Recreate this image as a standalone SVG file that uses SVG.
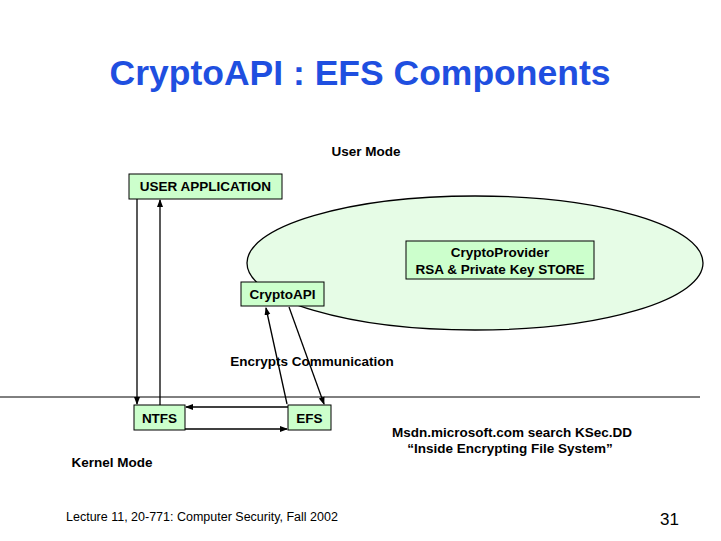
<svg xmlns="http://www.w3.org/2000/svg" width="721" height="541" viewBox="0 0 721 541">
<style>
text{font-family:"Liberation Sans",Arial,sans-serif;fill:#000}
.b{font-weight:bold;font-size:13.5px}
.box{fill:#ccffcc;stroke:#000;stroke-width:1}
.ln{stroke:#000;stroke-width:1.3;fill:none}
</style>
<defs><marker id="a" markerWidth="8" markerHeight="8" refX="7" refY="4" orient="auto" markerUnits="userSpaceOnUse"><path d="M0,1 L8,4 L0,7 Z" fill="#000"/></marker></defs>
<rect width="721" height="541" fill="#fff"/>
<text x="360" y="85" text-anchor="middle" style="font-size:35.5px;font-weight:bold;fill:#1f4fe0">CryptoAPI : EFS Components</text>
<text x="366" y="156" text-anchor="middle" class="b">User Mode</text>
<g id="ellipse"><ellipse cx="475" cy="263" rx="228" ry="67" fill="#e6fce6" stroke="#000" stroke-width="1.3"/></g>
<g id="userapp"><rect class="box" x="129" y="174" width="153" height="25"/><text x="205.5" y="191" text-anchor="middle" class="b">USER APPLICATION</text></g>
<g id="provider"><rect class="box" x="406" y="241" width="188" height="38"/><text x="500" y="257" text-anchor="middle" class="b">CryptoProvider</text><text x="500" y="274" text-anchor="middle" class="b">RSA &amp; Private Key STORE</text></g>
<g id="cryptoapi"><rect class="box" x="241" y="282" width="83" height="24"/><text x="282.5" y="299" text-anchor="middle" class="b">CryptoAPI</text></g>
<g id="ntfs"><rect class="box" x="134" y="405" width="51" height="25"/><text x="159.5" y="423" text-anchor="middle" class="b">NTFS</text></g>
<g id="efs"><rect class="box" x="288" y="405" width="43" height="25"/><text x="309.5" y="423" text-anchor="middle" class="b">EFS</text></g>
<g id="connectors">
<line class="ln" x1="137" y1="199" x2="137" y2="404" marker-end="url(#a)"/>
<line class="ln" x1="160" y1="405" x2="160" y2="200" marker-end="url(#a)"/>
<line class="ln" x1="288" y1="407" x2="186" y2="407" marker-end="url(#a)"/>
<line class="ln" x1="185" y1="429" x2="287" y2="429" marker-end="url(#a)"/>
<line class="ln" x1="287" y1="404" x2="266" y2="308" marker-end="url(#a)"/>
<line class="ln" x1="289" y1="307" x2="324" y2="404" marker-end="url(#a)"/>
</g>
<text x="312" y="366" text-anchor="middle" class="b">Encrypts Communication</text>
<line x1="0" y1="397" x2="700" y2="397" stroke="#000" stroke-width="1"/>
<text x="112" y="467" text-anchor="middle" class="b">Kernel Mode</text>
<text x="512" y="437" text-anchor="middle" class="b">Msdn.microsoft.com search KSec.DD</text>
<text x="510" y="453" text-anchor="middle" class="b">“Inside Encrypting File System”</text>
<text x="66" y="521" style="font-size:12.5px">Lecture 11, 20-771: Computer Security,  Fall 2002</text>
<text x="679" y="525" text-anchor="end" style="font-size:17px">31</text>
</svg>
